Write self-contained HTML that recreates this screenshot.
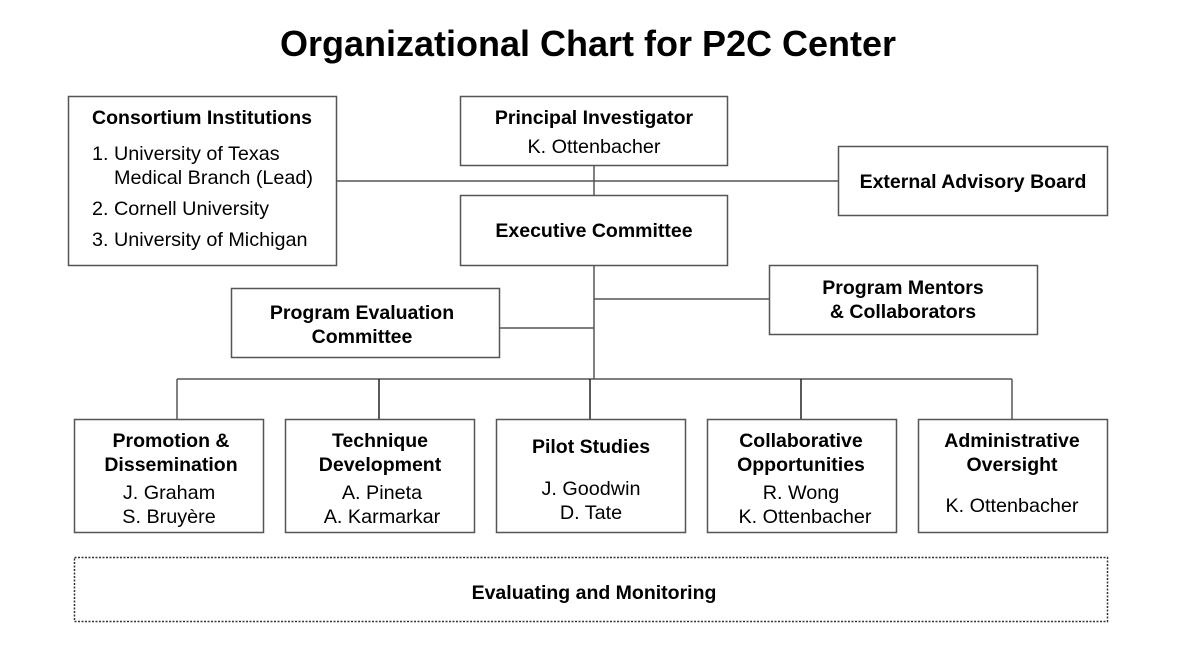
<!DOCTYPE html>
<html><head><meta charset="utf-8"><style>
html,body{margin:0;padding:0;background:#fff;}
svg{display:block;font-family:"Liberation Sans",Arial,sans-serif;}
.b{font-weight:bold;font-size:19.5px;}
.n{font-size:19.8px;}
</style></head><body>
<svg width="1177" height="649" viewBox="0 0 1177 649">
<g fill="#000" text-anchor="middle">
<text x="588" y="56" style="font-weight:bold;font-size:36px">Organizational Chart for P2C Center</text>
</g>
<g stroke="#555" stroke-width="1.5" fill="none">
<line x1="336" y1="181" x2="838" y2="181"/>
<line x1="594" y1="165" x2="594" y2="195"/>
<line x1="594" y1="265" x2="594" y2="379"/>
<line x1="594" y1="299" x2="769" y2="299"/>
<line x1="499" y1="328" x2="594" y2="328"/>
<line x1="177" y1="379" x2="1012" y2="379"/>
<line x1="177" y1="379" x2="177" y2="419"/>
<line x1="379" y1="379" x2="379" y2="419" stroke="#222"/>
<line x1="590" y1="379" x2="590" y2="419" stroke="#222"/>
<line x1="801" y1="379" x2="801" y2="419" stroke="#222"/>
<line x1="1012" y1="379" x2="1012" y2="419"/>
<rect x="68.5" y="96.5" width="268" height="169"/>
<rect x="460.5" y="96.5" width="267" height="69"/>
<rect x="460.5" y="195.5" width="267" height="70"/>
<rect x="838.5" y="146.5" width="269" height="69"/>
<rect x="231.5" y="288.5" width="268" height="69"/>
<rect x="769.5" y="265.5" width="268" height="69"/>
<rect x="74.5" y="419.5" width="189" height="113"/>
<rect x="285.5" y="419.5" width="189" height="113"/>
<rect x="496.5" y="419.5" width="189" height="113"/>
<rect x="707.5" y="419.5" width="189" height="113"/>
<rect x="918.5" y="419.5" width="189" height="113"/>
<rect x="74.5" y="557.5" width="1033" height="64" stroke="#333" stroke-dasharray="2,1.5"/>
</g>
<g fill="#000" text-anchor="middle">
<text class="b" x="202" y="124">Consortium Institutions</text>
<text class="n" x="114" y="160" text-anchor="start">University of Texas</text>
<text class="n" x="92" y="160" text-anchor="start">1.</text>
<text class="n" x="114" y="184" text-anchor="start">Medical Branch (Lead)</text>
<text class="n" x="92" y="215" text-anchor="start">2. Cornell University</text>
<text class="n" x="92" y="246" text-anchor="start">3. University of Michigan</text>
<text class="b" x="594" y="124">Principal Investigator</text>
<text class="n" x="594" y="153">K. Ottenbacher</text>
<text class="b" x="594" y="237">Executive Committee</text>
<text class="b" x="973" y="188">External Advisory Board</text>
<text class="b" x="362" y="319">Program Evaluation</text>
<text class="b" x="362" y="343">Committee</text>
<text class="b" x="903" y="294">Program Mentors</text>
<text class="b" x="903" y="318">&amp; Collaborators</text>
<text class="b" x="171" y="447">Promotion &amp;</text>
<text class="b" x="171" y="471">Dissemination</text>
<text class="n" x="169" y="499">J. Graham</text>
<text class="n" x="169" y="523">S. Bruyère</text>
<text class="b" x="380" y="447">Technique</text>
<text class="b" x="380" y="471">Development</text>
<text class="n" x="382" y="499">A. Pineta</text>
<text class="n" x="382" y="523">A. Karmarkar</text>
<text class="b" x="591" y="453">Pilot Studies</text>
<text class="n" x="591" y="495">J. Goodwin</text>
<text class="n" x="591" y="519">D. Tate</text>
<text class="b" x="801" y="447">Collaborative</text>
<text class="b" x="801" y="471">Opportunities</text>
<text class="n" x="801" y="499">R. Wong</text>
<text class="n" x="805" y="523">K. Ottenbacher</text>
<text class="b" x="1012" y="447">Administrative</text>
<text class="b" x="1012" y="471">Oversight</text>
<text class="n" x="1012" y="512">K. Ottenbacher</text>
<text class="b" x="594" y="599">Evaluating and Monitoring</text>
</g>
</svg>
</body></html>
